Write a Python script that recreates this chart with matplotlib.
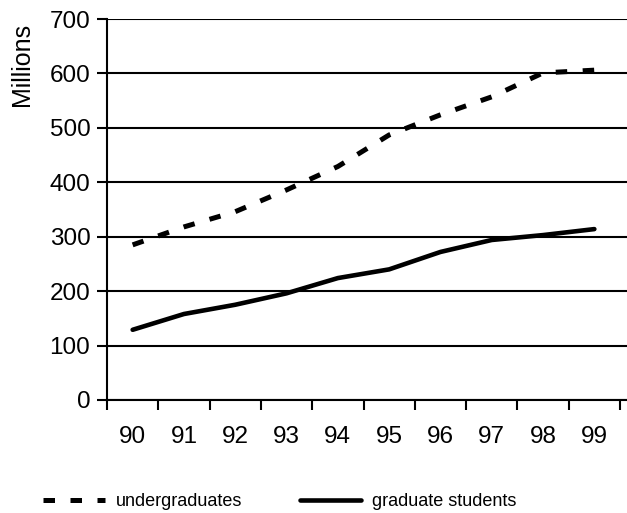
import matplotlib
matplotlib.use("Agg")
import matplotlib.pyplot as plt

plt.rcParams["font.family"] = ["Liberation Sans", "DejaVu Sans"]

years = ["90", "91", "92", "93", "94", "95", "96", "97", "98", "99"]
undergraduates = [285, 318, 346, 386, 429, 487, 524, 557, 601, 606]
graduate_students = [129, 158, 175, 196, 224, 240, 272, 294, 303, 314]

fig = plt.figure(figsize=(6.27, 5.13), dpi=100)
ax = fig.add_axes([107 / 627, 1 - 400 / 513, 1 - 107 / 627, 381 / 513])

x = list(range(len(years)))
ax.plot(x, undergraduates, color="black", lw=3.6, linestyle=(0, (2.3, 3.1)),
        dash_capstyle="butt", label="undergraduates")
ax.plot(x, graduate_students, color="black", lw=3.3,
        solid_capstyle="round", label="graduate students")

ax.set_ylim(0, 700)
ax.set_xlim(-0.5, 9.5 + 7 / 51.3)
ax.set_yticks(range(0, 701, 100))
ax.yaxis.grid(True, color="black", lw=1.5)
ax.set_axisbelow(True)

# tick marks sit on category boundaries, labels at category centres
ax.set_xticks([i - 0.5 for i in range(len(years) + 1)])
ax.set_xticklabels([])
ax.set_xticks(x, minor=True)
ax.set_xticklabels(years, minor=True)
ax.tick_params(axis="x", which="minor", length=0, pad=19, labelsize=17.5)
ax.tick_params(axis="x", which="major", length=7, width=1.5, direction="out")
ax.tick_params(axis="y", length=7, width=1.5, direction="out", pad=5, labelsize=17.5)

for side in ("top", "right"):
    ax.spines[side].set_visible(False)
for side in ("left", "bottom"):
    ax.spines[side].set_linewidth(1.5)

fig.text(22 / 627, 1 - 64 / 513, "Millions", rotation=90, ha="center",
         va="center", fontsize=18)

leg = fig.legend(loc="center left", bbox_to_anchor=(36 / 627, 1 - 502 / 513),
                 ncol=2, frameon=False, fontsize=13, handlelength=3.4,
                 handletextpad=0.6, columnspacing=3.2, borderaxespad=0)

fig.savefig("out.png", dpi=100)
